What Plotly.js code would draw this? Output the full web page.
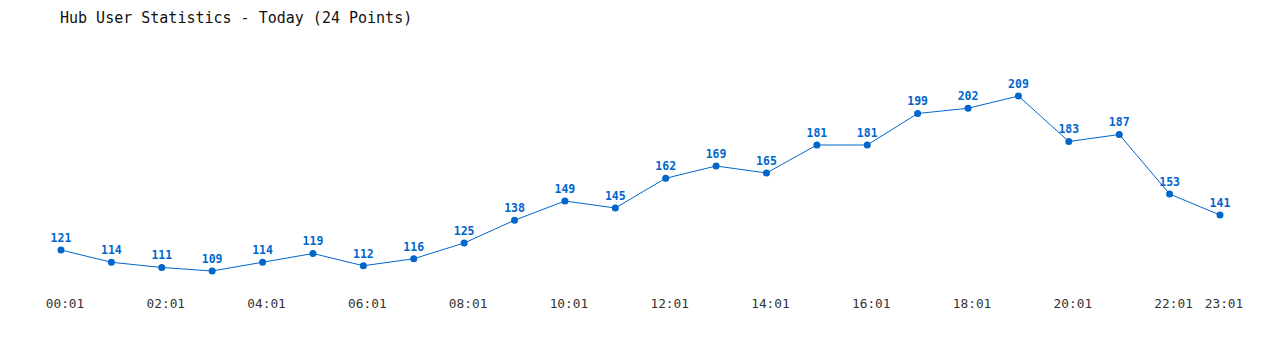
<!DOCTYPE html>
<html>
<head>
<meta charset="utf-8">
<script src="https://cdn.plot.ly/plotly-3.0.1.min.js"></script>
<style>html,body{margin:0;padding:0;background:#fff;}#chart{width:1280px;height:350px;}</style>
</head>
<body>
<div id="chart"></div>
<script>
const hours = ["00:01","01:01","02:01","03:01","04:01","05:01","06:01","07:01","08:01","09:01","10:01","11:01","12:01","13:01","14:01","15:01","16:01","17:01","18:01","19:01","20:01","21:01","22:01","23:01"];
const users = [121,114,111,109,114,119,112,116,125,138,149,145,162,169,165,181,181,199,202,209,183,187,153,141];
const tickLabels = ["00:01","02:01","04:01","06:01","08:01","10:01","12:01","14:01","16:01","18:01","20:01","22:01","23:01"];

const idx = hours.map((h, i) => i);
const tickIdx = tickLabels.map(t => hours.indexOf(t));
const mono = "DejaVu Sans Mono, Liberation Mono, monospace";

const trace = {
  x: idx,
  y: users,
  mode: "lines+markers+text",
  type: "scatter",
  text: users.map(String),
  textposition: "top center",
  textfont: {family: mono, size: 11.5, color: "#0066cc", weight: "bold"},
  line: {color: "#0066cc", width: 1},
  marker: {color: "#0066cc", size: 7},
  hoverinfo: "x+y",
  cliponaxis: false
};

const layout = {
  width: 1280, height: 350,
  paper_bgcolor: "#fff", plot_bgcolor: "#fff",
  margin: {l: 61, r: 60, t: 50, b: 60},
  showlegend: false,
  title: {
    text: "Hub User Statistics - Today (24 Points)",
    font: {family: mono, size: 15, color: "#111"},
    xref: "container", yref: "container",
    x: 60/1280, xanchor: "left",
    y: 1 - 18/350, yanchor: "middle"
  },
  xaxis: {
    range: [0, 23],
    tickvals: tickIdx,
    ticktext: tickLabels,
    showgrid: false, zeroline: false, showline: false,
    ticks: "", ticklabelstandoff: 4, ticklabelshift: 4,
    tickfont: {family: mono, size: 12.8, color: "#333"}
  },
  yaxis: {
    range: [98.14, 235.29],
    showgrid: false, zeroline: false, showline: false,
    showticklabels: false, ticks: ""
  }
};

Plotly.newPlot("chart", [trace], layout, {displayModeBar: false, staticPlot: true});
</script>
</body>
</html>
